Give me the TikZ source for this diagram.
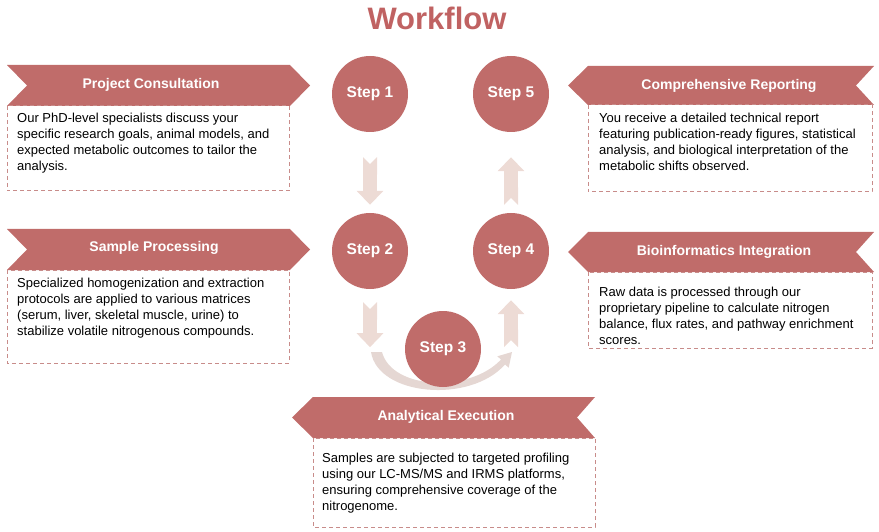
\documentclass[tikz,border=0pt]{standalone}
\usepackage{fontspec}
\setmainfont{Liberation Sans}
\usetikzlibrary{arrows.meta, positioning, calc}
\definecolor{rosecolor}{RGB}{192,108,106}
\definecolor{titlecolor}{RGB}{192,98,98}
\definecolor{arrowcolor}{RGB}{237,219,213}
\definecolor{dashcolor}{RGB}{200,140,138}
\definecolor{curvecolor}{RGB}{229,215,211}

\tikzset{
  stepnode/.style={circle, fill=rosecolor, minimum size=76pt, inner sep=0pt, text=white, font=\fontsize{15.5}{18}\selectfont\bfseries},
  bannertext/.style={text=white, font=\fontsize{14}{16}\selectfont\bfseries},
  bodytext/.style={anchor=north west, inner sep=0pt, align=left, font=\fontsize{13}{16}\selectfont},
  infobox/.style={draw=dashcolor, dash pattern=on 4pt off 3pt, line width=1pt},
  flowarrow/.style={arrowcolor, line width=14pt, {Triangle Cap[reversed]}-{Triangle[width=26pt,length=14pt]}},
}

\begin{document}
\begin{tikzpicture}[x=1pt, y=-1pt]
    \useasboundingbox (0,0) rectangle (879,532);
    \node[titlecolor, font=\fontsize{31}{36}\selectfont\bfseries] (title) at (437,18) {Workflow};

    % steps
    \node[stepnode] (s1) at (370,94) {Step 1};
    \node[stepnode] (s2) at (370,251) {Step 2};
    \node[stepnode] (s4) at (511,251) {Step 4};
    \node[stepnode] (s5) at (511,94) {Step 5};

    \draw[flowarrow] ([yshift=-25pt]s1.south) -- ([yshift=8pt]s2.north);
    \draw[flowarrow] ([yshift=8pt]s4.north) -- ([yshift=-25pt]s5.south);
    \draw[flowarrow] ([yshift=-13pt]s2.south) -- ([yshift=-58pt]s2.south);
    \draw[flowarrow] ([yshift=-58pt]s4.south) -- ([yshift=-11pt]s4.south);
    \fill[curvecolor]
        (371,352) .. controls (378,396) and (470,404) .. (505,364.5) -- (508.7,367.7) -- (512,352)
        -- (497.3,356.3) -- (501,359.5) .. controls (470,393) and (392,390) .. (382,352) -- cycle;
    \node[stepnode] (s3) at (443,349) {Step 3};

    % left side
    \fill[rosecolor] (7,65) -- (290,65) -- (310,85.5) -- (290,106) -- (7,106) -- (27,85.5) -- cycle;
    \node[bannertext] (consult) at (151,85) {Project Consultation};
    \draw[infobox] (7,106) rectangle (289,191);
    \node[bodytext] (consulttxt) at (17,113) {Our PhD-level specialists discuss your\\specific research goals, animal models, and\\expected metabolic outcomes to tailor the\\analysis.};

    \fill[rosecolor] (7,229) -- (290,229) -- (310,249.5) -- (290,270) -- (7,270) -- (27,249.5) -- cycle;
    \node[bannertext] (sample) at (154,248) {Sample Processing};
    \draw[infobox] (7,270) rectangle (289,363);
    \node[bodytext] (sampletxt) at (17,278) {Specialized homogenization and extraction\\protocols are applied to various matrices\\(serum, liver, skeletal muscle, urine) to\\stabilize volatile nitrogenous compounds.};

    % bottom
    \fill[rosecolor] (313,397) -- (595,397) -- (577,417.5) -- (595,438) -- (313,438) -- (292,417.5) -- cycle;
    \node[bannertext] (analytic) at (446,417) {Analytical Execution};
    \draw[infobox] (313,438) rectangle (595,527);
    \node[bodytext] (analytictxt) at (322,453) {Samples are subjected to targeted profiling\\using our LC-MS/MS and IRMS platforms,\\ensuring comprehensive coverage of the\\nitrogenome.};

    % right side
    \fill[rosecolor] (588,232) -- (874,232) -- (856,252) -- (874,272) -- (588,272) -- (568,252) -- cycle;
    \node[bannertext] (bioinfo) at (724,252) {Bioinformatics Integration};
    \draw[infobox] (588,272) rectangle (872,348);
    \node[bodytext] (bioinfotxt) at (599,287) {Raw data is processed through our\\proprietary pipeline to calculate nitrogen\\balance, flux rates, and pathway enrichment\\scores.};

    \fill[rosecolor] (588,66) -- (874,66) -- (856,85.5) -- (874,105) -- (588,105) -- (568,85.5) -- cycle;
    \node[bannertext] (report) at (729,86) {Comprehensive Reporting};
    \draw[infobox] (588,105) rectangle (872,192);
    \node[bodytext] (reporttxt) at (599,113) {You receive a detailed technical report\\featuring publication-ready figures, statistical\\analysis, and biological interpretation of the\\metabolic shifts observed.};
\end{tikzpicture}
\end{document}
